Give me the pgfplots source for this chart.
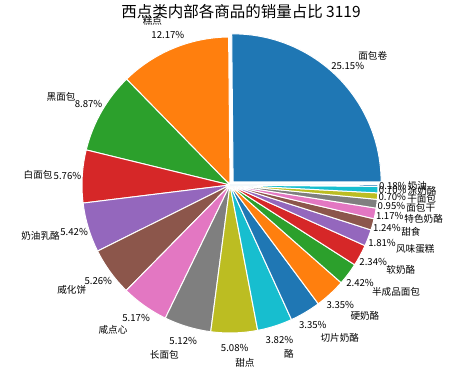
\documentclass[border=0pt]{standalone}
\usepackage{pgfplots}
\usepackage{pgfplotstable}
\pgfplotsset{compat=1.18}
\usepackage{fontspec}
\setmainfont{Noto Sans CJK SC}
\definecolor{c0}{HTML}{1F77B4}
\definecolor{c1}{HTML}{FF7F0E}
\definecolor{c2}{HTML}{2CA02C}
\definecolor{c3}{HTML}{D62728}
\definecolor{c4}{HTML}{9467BD}
\definecolor{c5}{HTML}{8C564B}
\definecolor{c6}{HTML}{E377C2}
\definecolor{c7}{HTML}{7F7F7F}
\definecolor{c8}{HTML}{BCBD22}
\definecolor{c9}{HTML}{17BECF}
\newcommand\lblfont{\fontsize{9.6}{11}\selectfont}

\pgfplotstableread{
name pct col
面包卷 25.15 c0
糕点 12.17 c1
黑面包 8.87 c2
白面包 5.76 c3
奶油乳酪 5.42 c4
威化饼 5.26 c5
咸点心 5.17 c6
长面包 5.12 c7
甜点 5.08 c8
酪 3.82 c9
切片奶酪 3.35 c0
硬奶酪 3.35 c1
半成品面包 2.42 c2
软奶酪 2.34 c3
风味蛋糕 1.81 c4
甜食 1.24 c5
特色奶酪 1.17 c6
面包干 0.95 c7
干面包 0.70 c8
涂奶酪 0.70 c9
奶油 0.18 c0
}\piedata

\pgfplotstablegetrowsof{\piedata}
\pgfmathtruncatemacro\lastrow{\pgfplotsretval-1}
\def\piecmds{}
\def\cum{0}
\pgfplotsforeachungrouped \i in {0,...,\lastrow}{%
  \pgfplotstablegetelem{\i}{pct}\of\piedata \let\p\pgfplotsretval
  \pgfplotstablegetelem{\i}{name}\of\piedata \let\nm\pgfplotsretval
  \pgfplotstablegetelem{\i}{col}\of\piedata \let\cl\pgfplotsretval
  \pgfmathsetmacro\aS{\cum*3.6}%
  \pgfmathsetmacro\cumn{\cum+\p}%
  \pgfmathsetmacro\aE{\cumn*3.6}%
  \let\cum\cumn
  \pgfmathsetmacro\aM{(\aS+\aE)/2}%
  \ifnum\i=0 \def\ex{0.03}\else\def\ex{0}\fi
  \pgfmathsetmacro\ox{\ex*cos(\aM)}%
  \pgfmathsetmacro\oy{\ex*sin(\aM)}%
  \pgfmathsetmacro\sx{\ox+cos(\aS)}%
  \pgfmathsetmacro\sy{\oy+sin(\aS)}%
  \pgfmathsetmacro\lx{\ox+1.2*cos(\aM)}%
  \pgfmathsetmacro\ly{\oy+1.2*sin(\aM)}%
  \pgfmathsetmacro\px{\ox+1.1*cos(\aM)}%
  \pgfmathsetmacro\py{\oy+1.1*sin(\aM)}%
  \pgfmathsetmacro\cs{cos(\aM)}%
  \ifdim\cs pt<0pt \def\anc{east}\else\def\anc{west}\fi
  \xdef\piecmds{\unexpanded\expandafter{\piecmds}
    \noexpand\fill[\cl,draw=white,line width=1pt] (axis cs:\ox,\oy) -- (axis cs:\sx,\sy) arc[start angle=\aS,end angle=\aE,radius=148pt] -- cycle;
    \noexpand\node[anchor=\anc,inner sep=0pt,font=\noexpand\lblfont] at (axis cs:\lx,\ly) {\nm};
    \noexpand\node[inner sep=0pt,font=\noexpand\lblfont] at (axis cs:\px,\py) {\p\noexpand\%};
  }%
}

\begin{document}
\begin{tikzpicture}
\begin{axis}[
  at={(0,0)}, anchor=south west,
  x=148pt, y=148pt,
  xmin=-1.554054, xmax=1.554054,
  ymin=-1.277027, ymax=1.25,
  hide axis, clip=false,
]
\addplot[draw=none] coordinates {(0,0)};
\piecmds
\node[font=\fontsize{15.5}{18}\selectfont] at (axis cs:0.074,1.169) {西点类内部各商品的销量占比 3119};
\end{axis}
\pgfresetboundingbox
\path (0,0) rectangle (460pt,374pt);
\end{tikzpicture}
\end{document}
